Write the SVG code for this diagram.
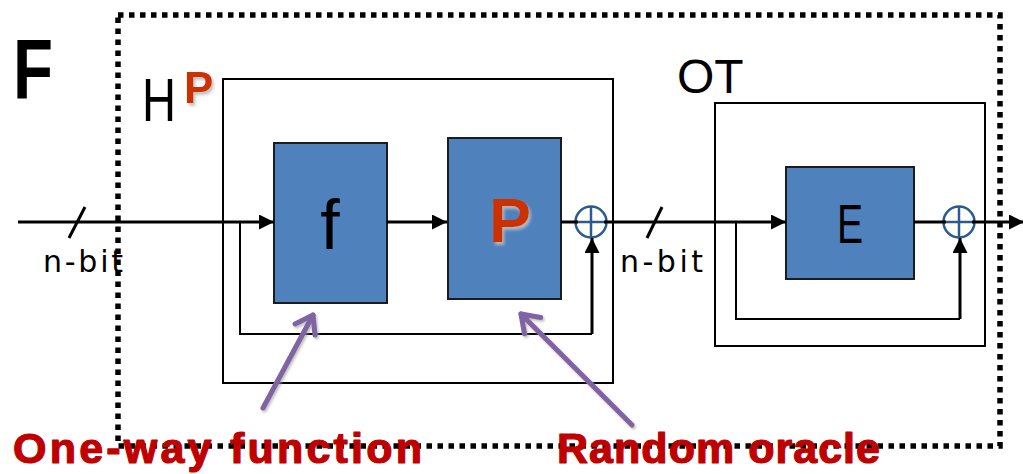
<svg xmlns="http://www.w3.org/2000/svg" width="1023" height="474" viewBox="0 0 1023 474">
  <style>
    .dots { fill: none; stroke: #000; stroke-width: 5.5; stroke-dasharray: 5.5 5.5; }
    .frame { fill: none; stroke: #000; stroke-width: 2; }
    .block { fill: #4F81BD; stroke: #1c1c1c; stroke-width: 2; }
    .wire { fill: none; stroke: #000; stroke-width: 3; }
    .loop { fill: none; stroke: #000; stroke-width: 2; }
    .xor { fill: none; stroke: #2A5A8E; stroke-width: 2.5; }
    .pointer { fill: none; stroke: #8064A2; stroke-width: 5; stroke-linecap: round; stroke-linejoin: round; }
    .sans { font-family: "Liberation Sans", Arial, sans-serif; fill: #000; }
    .width { font-family: "DejaVu Sans", "Liberation Sans", sans-serif; font-size: 30px; fill: #000; }
    .note { font-family: "Liberation Sans", Arial, sans-serif; font-weight: bold; font-size: 43px; fill: #C00000; stroke: #C00000; stroke-width: 1.2; stroke-linejoin: round; }
    .oracle { font-family: "Liberation Sans", Arial, sans-serif; font-weight: bold; fill: #CC3300; }
  </style>
  <defs>
    <marker id="head" markerUnits="userSpaceOnUse" markerWidth="16" markerHeight="16" refX="15" refY="7.5" orient="auto">
      <path d="M0,0 L15,7.5 L0,15 Z" fill="#000"/>
    </marker>
    <filter id="soft" x="-20%" y="-20%" width="150%" height="150%">
      <feDropShadow dx="2" dy="3" stdDeviation="1.5" flood-color="#bdbdbd" flood-opacity="0.9"/>
    </filter>
    <filter id="lift" x="-20%" y="-20%" width="150%" height="150%">
      <feDropShadow dx="1.5" dy="2" stdDeviation="1.2" flood-color="#999" flood-opacity="0.6"/>
    </filter>
  </defs>

  <!-- outer construction F -->
  <g id="F">
    <rect class="dots" x="118" y="15" width="882" height="431"/>
    <text class="sans" font-size="85" font-weight="bold" transform="translate(13,99) scale(0.77,1)">F</text>
  </g>

  <!-- hash H^P -->
  <g id="H">
    <rect class="frame" x="223" y="79" width="390" height="304"/>
    <text class="sans" font-size="62" transform="translate(142,121) scale(0.76,1)">H</text>
    <text class="oracle" x="184" y="103" font-size="44" filter="url(#soft)">P</text>
  </g>

  <g id="f">
    <rect class="block" x="274" y="143" width="113" height="160"/>
    <text class="sans" x="330" y="249" font-size="70" text-anchor="middle">f</text>
  </g>

  <g id="P">
    <rect class="block" x="448" y="138" width="113" height="161"/>
    <text class="oracle" x="489" y="242" font-size="63" filter="url(#soft)">P</text>
  </g>

  <g id="xor1">
    <circle class="xor" cx="591" cy="222" r="15.5"/>
    <line class="xor" x1="591" y1="206.5" x2="591" y2="237.5"/>
    <line class="xor" x1="575.5" y1="222" x2="606.5" y2="222"/>
  </g>

  <!-- one-time pad OT -->
  <g id="OT">
    <rect class="frame" x="715" y="103" width="270" height="243"/>
    <text class="sans" x="677" y="93" font-size="48">OT</text>
  </g>

  <g id="E">
    <rect class="block" x="786" y="167" width="128" height="112"/>
    <text class="sans" font-size="56" transform="translate(837,243) scale(0.7,1)">E</text>
  </g>

  <g id="xor2">
    <circle class="xor" cx="959" cy="222" r="15.5"/>
    <line class="xor" x1="959" y1="206.5" x2="959" y2="237.5"/>
    <line class="xor" x1="943.5" y1="222" x2="974.5" y2="222"/>
  </g>

  <!-- signal paths -->
  <g id="connectors">
    <path class="wire" d="M18,222 H274" marker-end="url(#head)"/>
    <path class="wire" d="M69,238 L85,207"/>
    <path class="wire" d="M387,222 H447" marker-end="url(#head)"/>
    <path class="wire" d="M561,222 H578"/>
    <path class="wire" d="M604,222 H786" marker-end="url(#head)"/>
    <path class="wire" d="M647,238 L662,207"/>
    <path class="wire" d="M914,222 H946"/>
    <path class="wire" d="M972,222 H1024" marker-end="url(#head)"/>

    <path class="loop" d="M240,222 V334 H592"/>
    <path class="wire" d="M592,334 V238" marker-end="url(#head)"/>
    <path class="loop" d="M736,222 V319 H960"/>
    <path class="wire" d="M960,319 V238" marker-end="url(#head)"/>

    <!-- callout pointers -->
    <g filter="url(#lift)">
      <path class="pointer" d="M263,408 L313,315"/>
      <path class="pointer" d="M295,324 L313,315 L315,335"/>
      <path class="pointer" d="M632,425 L521,314"/>
      <path class="pointer" d="M524.5,333.7 L521,314 L540.7,317.5"/>
    </g>
  </g>

  <!-- width labels -->
  <text class="width" x="43" y="272" textLength="80" lengthAdjust="spacing">n-bit</text>
  <text class="width" x="620" y="272" textLength="83" lengthAdjust="spacing">n-bit</text>

  <!-- captions -->
  <text class="note" x="13" y="463" textLength="409" lengthAdjust="spacing">One-way function</text>
  <text class="note" x="557" y="463" textLength="323" lengthAdjust="spacing">Random oracle</text>
</svg>
